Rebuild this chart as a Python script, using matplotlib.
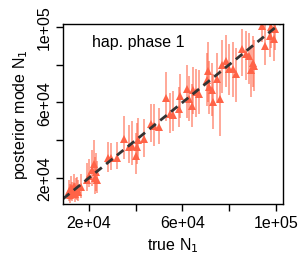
import matplotlib
matplotlib.use("Agg")
import matplotlib.pyplot as plt

plt.rcParams["font.family"] = ["Liberation Sans", "DejaVu Sans"]

# true N1, posterior mode, and lower/upper interval bounds
TRUE_N1 = [11500, 12000, 12500, 13000, 13500, 14000, 14500, 15000, 15500, 16500,
           19000, 20000, 21500, 22000, 22500, 23000, 23500,
           28000, 29500, 32000,
           35000, 37000, 38500, 40000, 40500, 41000, 43500,
           46500, 48000, 50000,
           53000, 54500, 56000, 58500, 59000,
           62000, 63000, 64000, 64500, 66000, 67000,
           70500, 71000, 71500, 72500, 73000, 75000, 76000, 77000,
           78500, 80000, 81500, 83000,
           85500, 87000, 88500, 89500, 90000, 90500,
           94000, 95500, 97500, 98000, 99000, 99500]
MODE_N1 = [13000, 11000, 14500, 12000, 15500, 11500, 13500, 14000, 12500, 15000,
           19000, 21000, 24000, 27500, 20000, 23000, 19000,
           30500, 30500, 30500,
           40500, 36500, 37000, 31500, 36500, 40000, 40500,
           48500, 47500, 47000,
           62500, 54000, 53500, 56500, 63500,
           67000, 62000, 58000, 66500, 65500, 64500,
           72000, 76500, 68000, 66500, 60000, 72500, 62000, 80000,
           82000, 77500, 78000, 75000,
           88500, 85500, 84500, 77000, 81000, 79500,
           100500, 90000, 95000, 100000, 93500, 99000]
LOW_N1 = [8000, 7000, 8500, 8000, 9500, 7500, 9000, 8500, 8000, 9500,
          13000, 15000, 16000, 17000, 11500, 13000, 12000,
          23000, 24000, 24500,
          30000, 28000, 27000, 22000, 27500, 30000, 31000,
          39000, 37000, 38000,
          50000, 44000, 45000, 47000, 52000,
          52000, 50000, 47000, 54000, 52500, 54000,
          58000, 60000, 54000, 53000, 46000, 60000, 42000, 65000,
          68000, 64000, 63000, 60000,
          74000, 72000, 70000, 63000, 68000, 66000,
          92000, 80000, 84000, 89000, 82000, 88000]
HIGH_N1 = [19000, 17000, 21000, 18000, 22000, 17500, 20000, 20500, 19000, 22000,
           28000, 30000, 35000, 40000, 31000, 33000, 29000,
           39000, 38500, 39000,
           53000, 48000, 50000, 44000, 49000, 52000, 51000,
           59000, 59000, 57000,
           76000, 65000, 66000, 68000, 75000,
           80000, 74000, 70000, 79000, 78000, 77000,
           86000, 92000, 82000, 81000, 75000, 86000, 77000, 93000,
           96000, 91000, 92000, 89000,
           99000, 98000, 97000, 90000, 95000, 93000,
           104000, 102000, 104000, 104000, 104000, 104000]

fig = plt.figure(figsize=(3.01, 2.55), dpi=100)
ax = fig.add_axes([0.209, 0.196, 0.731, 0.706])

col = "#FF6347"
err_lo = [m - lo for m, lo in zip(MODE_N1, LOW_N1)]
err_hi = [hi - m for m, hi in zip(MODE_N1, HIGH_N1)]
ax.errorbar(TRUE_N1, MODE_N1, yerr=[err_lo, err_hi], fmt="none",
            ecolor=col, elinewidth=1.2, alpha=0.65, capsize=0)
ax.plot(TRUE_N1, MODE_N1, linestyle="none", marker="^", markersize=5.5,
        color=col, markeredgewidth=0)

ax.axline((0, 0), slope=1, color="#333333", linestyle=(0, (3, 2)), lw=2)

ax.set_xlim(8900, 103000)
ax.set_ylim(6200, 101600)

ax.set_xticks([20000, 40000, 60000, 80000, 100000])
ax.set_xticklabels(["2e+04", "", "6e+04", "", "1e+05"])
ax.set_yticks([20000, 40000, 60000, 80000, 100000])
ax.set_yticklabels(["2e+04", "", "6e+04", "", "1e+05"], rotation=90, va="center")
ax.tick_params(direction="out", length=5, width=1, labelsize=11.5, pad=3)
for s in ax.spines.values():
    s.set_linewidth(1)

ax.set_xlabel("true N$_1$", fontsize=11.5, labelpad=4)
ax.set_ylabel("posterior mode N$_1$", fontsize=11.5, labelpad=5)
ax.text(21300, 92500, "hap. phase 1", fontsize=11.5, ha="left", va="center")

fig.savefig("out.png", dpi=100)
